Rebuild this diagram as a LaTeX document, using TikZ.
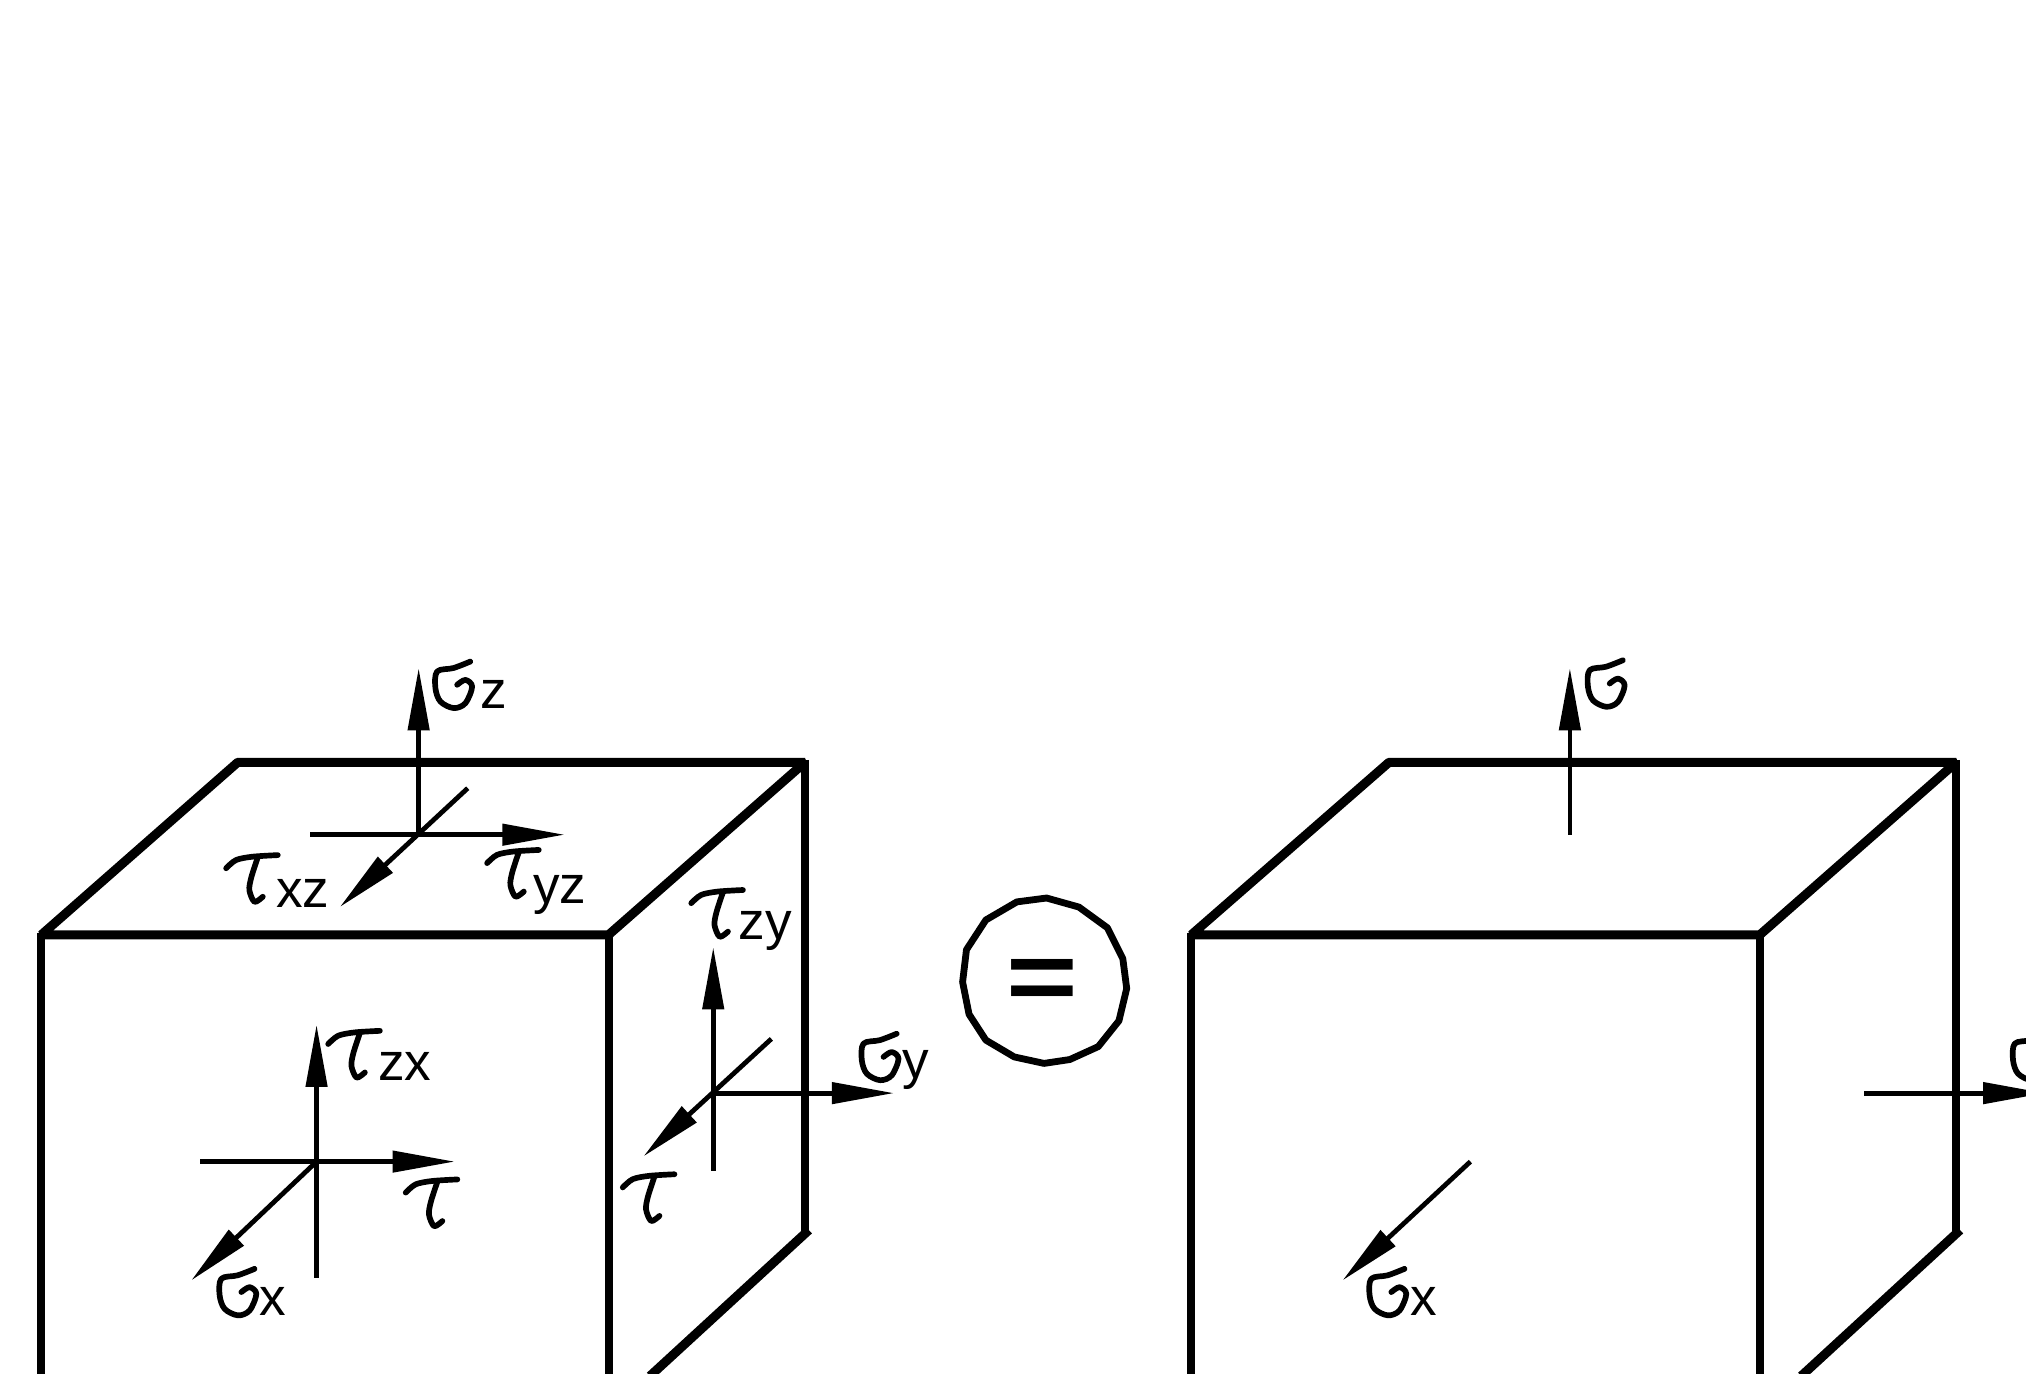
\documentclass[tikz,border=0pt]{standalone}
\usepackage{fontspec}
\setmainfont{Liberation Sans}
\usetikzlibrary{arrows.meta}
\tikzset{
  topedge/.style={line width=2.0pt,line join=bevel},
  sideedge/.style={line width=1.75pt},
  force/.style={line width=1.05pt,-{Triangle[length=13.7pt,width=4.6pt]}},
  plainline/.style={line width=1.05pt},
  glyph/.style={line width=1.25pt,line cap=round,line join=round},
  sub/.style={anchor=base west,inner sep=0pt,font=\fontsize{11.7}{12}\selectfont}
}
\newcommand{\hsigma}[1]{\draw[glyph,shift={(#1)}] plot[smooth,tension=.55] coordinates {(27,0) (14,5) (1.3,7.7) (0,20.6) (3.9,31) (14.2,36) (23.2,32.2) (28.4,19.4) (23.2,14.2) (16.8,18)};}
\newcommand{\htau}[1]{\draw[glyph,shift={(#1)}] plot[smooth,tension=.5] coordinates {(0,11) (7.7,4.6) (20.6,2) (40,0.8)} (24.5,2.6) plot[smooth,tension=.5] coordinates {(24.5,2.6) (19.5,18) (18,28) (22,37) (28.4,33)};}
\begin{document}
\begin{tikzpicture}[x=0.01cm,y=-0.01cm]
\useasboundingbox (0,0) rectangle (1568,1063);
\clip (0,0) rectangle (1568,1063);
% left cube
\coordinate (a1) at (32,723.5); \coordinate (b1) at (471,723.5);
\coordinate (c1) at (623,590); \coordinate (d1) at (184,590);
\draw[topedge] (a1) -- (b1) -- (c1) -- (d1) -- cycle;
\draw[sideedge] (32,722) -- (32,1063);
\draw[sideedge] (471,722) -- (471,1063);
\draw[sideedge] (623,588) -- (623,953);
\draw[topedge] (626,952) -- (503,1065);
% right cube
\coordinate (a2) at (922,723.5); \coordinate (b2) at (1362,723.5);
\coordinate (c2) at (1514,590); \coordinate (d2) at (1075,590);
\draw[topedge] (a2) -- (b2) -- (c2) -- (d2) -- cycle;
\draw[sideedge] (922,722) -- (922,1063);
\draw[sideedge] (1362,722) -- (1362,1063);
\draw[sideedge] (1514,588) -- (1514,953);
\draw[topedge] (1517,952) -- (1394,1065);
% top face forces
\coordinate (t) at (324,646);
\draw[force] (t) -- (324,517);
\draw[force] (240,646) -- (437,646);
\draw[force] (362,610) -- (263,702);
% front face forces
\coordinate (f) at (245,899);
\draw[plainline] (245,989) -- (f);
\draw[force] (f) -- (245,793);
\draw[force] (155,899) -- (352,899);
\draw[force] (f) -- (148,991);
% side face forces
\coordinate (s) at (552,846);
\draw[force] (552,906) -- (552,733);
\draw[force] (s) -- (692,846);
\draw[force] (597,804) -- (498,895);
% right cube forces
\draw[force] (1215,646) -- (1215,517);
\draw[force] (1443,846) -- (1583,846);
\draw[force] (1138,899) -- (1039,991);
% glyphs and subscripts
\hsigma{337,512} \node[sub] (lz) at (371,548) {z};
\htau{175,661}   \node[sub] (lxz) at (213,702) {xz};
\htau{377,657}   \node[sub] (lyz) at (412,699) {yz};
\htau{535,688}   \node[sub] (lzy) at (571,727) {zy};
\htau{254,797}   \node[sub] (lzx) at (292,836) {zx};
\htau{314,912}
\htau{482,908}
\hsigma{170,982} \node[sub] (lx) at (200,1018) {x};
\hsigma{667,800} \node[sub] (ly) at (698,835) {y};
\hsigma{1229,511}
\hsigma{1060,982} \node[sub] (lx2) at (1091,1018) {x};
\hsigma{1558,800}
% equals circle
\draw[line width=1.5pt,line join=round] (810,695) -- (835,702) -- (857,718) -- (869,742) -- (872,765) -- (866,790) -- (850,810) -- (828,820) -- (808,823) -- (785,818) -- (763,805) -- (750,785) -- (745,760) -- (748,735) -- (763,712) -- (787,698) -- cycle;
\node[inner sep=0pt,font=\fontsize{27}{27}\selectfont\bfseries] (eq) at (807,762) {\scalebox{1}[0.8]{=}};
\end{tikzpicture}
\end{document}
